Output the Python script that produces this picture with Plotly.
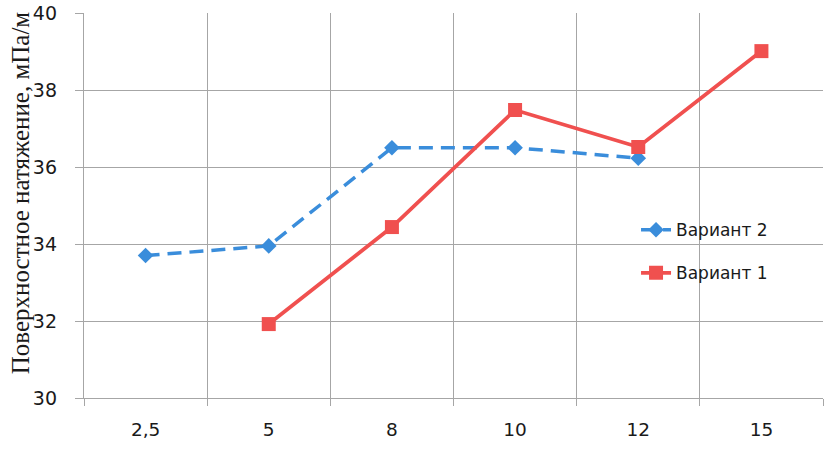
import plotly.graph_objects as go

categories = ["2,5", "5", "8", "10", "12", "15"]
variant2 = [33.7, 33.95, 36.5, 36.5, 36.23, None]
variant1 = [None, 31.92, 34.44, 37.48, 36.52, 39.01]
y_ticks = [30, 32, 34, 36, 38, 40]
y_title = "Поверхностное натяжение, мПа/м"

blue = "#3a8ddb"
red = "#f0504f"
grid = "#a6a6a6"

fig = go.Figure()
fig.add_trace(go.Scatter(
    x=categories, y=variant2, name="Вариант 2", mode="lines+markers",
    line=dict(color=blue, width=3.5, dash="14px,8px"),
    marker=dict(symbol="diamond", size=12, color=blue),
    legendgroup="v2",
))
fig.add_trace(go.Scatter(
    x=categories, y=variant1, name="Вариант 1", mode="lines+markers",
    line=dict(color=red, width=3.8),
    marker=dict(symbol="square", size=14, color=red),
    legendgroup="v1",
))

fig.update_layout(
    width=833, height=452,
    margin=dict(l=84, r=10, t=13, b=54, autoexpand=False),
    paper_bgcolor="white", plot_bgcolor="white",
    font=dict(family="DejaVu Sans", size=17, color="#1a1a1a"),
    legend=dict(
        x=0.747, y=0.38, xanchor="left", yanchor="middle",
        bgcolor="rgba(0,0,0,0)", font=dict(size=17),
        traceorder="grouped", tracegroupgap=18,
    ),
    xaxis=dict(
        type="category", range=[-0.5, 5.5], tickson="boundaries",
        showgrid=True, gridcolor=grid, gridwidth=1.3,
        ticks="outside", ticklen=7, tickcolor=grid, tickwidth=1.3,
        showline=True, linecolor=grid, linewidth=1.3,
        tickfont=dict(size=18.5), ticklabelstandoff=15,
        zeroline=False, automargin=False,
    ),
    yaxis=dict(
        range=[30, 40], tickvals=y_ticks,
        showgrid=True, gridcolor=grid, gridwidth=1.3,
        ticks="outside", ticklen=8, tickcolor=grid, tickwidth=1.3,
        showline=True, linecolor=grid, linewidth=1.3,
        tickfont=dict(size=19), ticklabelstandoff=14,
        ticklabeloverflow="allow",
        zeroline=False, automargin=False,
    ),
    annotations=[dict(
        text=y_title, textangle=-90, showarrow=False,
        xref="paper", yref="paper", x=-0.0865, y=0.532,
        xanchor="center", yanchor="middle",
        font=dict(family="Liberation Serif", size=25, color="#1a1a1a"),
    )],
)

fig.write_html("out.html", config={"displayModeBar": False},
               post_script="document.body.style.margin='0';")
